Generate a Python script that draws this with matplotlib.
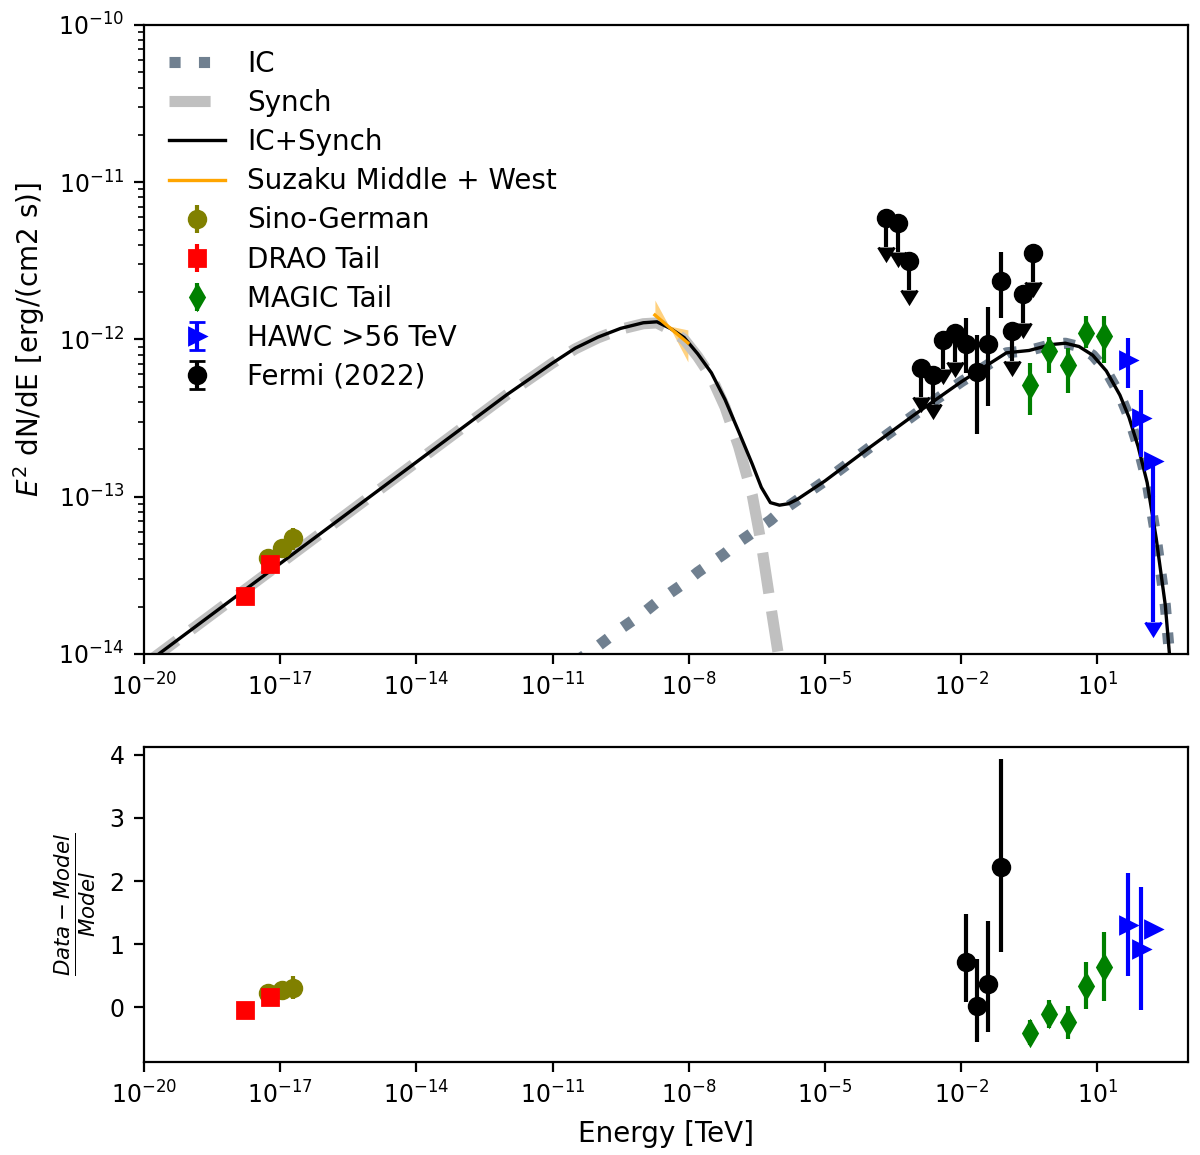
import numpy as np
import matplotlib
matplotlib.use("Agg")
from matplotlib import pyplot as plt
from matplotlib.ticker import NullLocator

# ---- model curves (log10 E [TeV], log10 E^2dN/dE) ----
log_e = np.array([-20, -18, -16, -14, -12, -11.5, -11, -10.5, -10, -9.5, -9, -8.7, -8.4,
                  -8.1, -7.8, -7.5, -7.2, -6.9, -6.6, -6.4, -6.2, -6.0, -5.8, -5.6,
                  -5.0, -4.0, -3.0, -2.0, -1.0, -0.5, 0.0, 0.3, 0.6, 0.9, 1.2,
                  1.5, 1.7, 1.9, 2.1, 2.3, 2.5, 2.6, 2.7])
nan = np.nan
synch_log = np.array([-14.07, -13.64, -13.21, -12.78, -12.35, -12.25, -12.15, -12.06,
                      -11.99, -11.935, -11.90, -11.895, -11.94, -12.00, -12.11, -12.24,
                      -12.43, -12.68, -12.99, -13.30, -13.68, -14.05, -14.5, -15.0,
                      nan, nan, nan, nan, nan, nan, nan, nan, nan, nan, nan,
                      nan, nan, nan, nan, nan, nan, nan, nan])
ic_log = np.array([nan, nan, nan, nan, nan, nan, nan, -14.05, -13.95, -13.84, -13.74,
                   -13.67, -13.61, -13.55, -13.48, -13.42, -13.36, -13.29, -13.23,
                   -13.19, -13.15, -13.10, -13.06, -13.02, -12.90, -12.684, -12.473,
                   -12.27, -12.085, -12.07, -12.032, -12.024, -12.045, -12.10, -12.20,
                   -12.354, -12.495, -12.68, -12.91, -13.266, -13.69, -14.03, -14.45])

# ---- Suzaku bowtie ----
suzaku_e = [1.80e-9, 3.66e-9, 9.6e-9]
suzaku_flux = [1.43e-12, 1.20e-12, 9.5e-13]
suzaku_hi = [1.78e-12, 1.22e-12, 1.15e-12]
suzaku_lo = [1.27e-12, 1.22e-12, 7.2e-13]

# ---- data points ----
sino_e = [5.47e-18, 1.08e-17, 1.95e-17]
sino_flux = [4.06e-14, 4.70e-14, 5.44e-14]
sino_err = [4.0e-15, 5.6e-15, 8.7e-15]
sino_res = [0.23, 0.27, 0.31]
sino_res_err = [0.08, 0.10, 0.18]

drao_e = [1.68e-18, 5.96e-18]
drao_flux = [2.34e-14, 3.73e-14]
drao_err = [1.0e-15, 3.0e-15]
drao_res = [-0.04, 0.16]
drao_res_err = [0.04, 0.10]

magic_e = [0.327, 0.873, 2.22, 5.61, 13.96]
magic_flux = [5.14e-13, 8.49e-13, 6.89e-13, 1.104e-12, 1.052e-12]
magic_err_lo = [1.83e-13, 2.39e-13, 2.34e-13, 2.25e-13, 3.46e-13]
magic_err_hi = [1.92e-13, 1.93e-13, 1.90e-13, 3.06e-13, 3.58e-13]
magic_res = [-0.405, -0.105, -0.237, 0.343, 0.64]
magic_res_err = [0.20, 0.22, 0.26, 0.37, 0.55]

hawc_e = [48.0, 94.4, 170.0]
hawc_flux = [7.41e-13, 3.15e-13, 1.69e-13]
hawc_err_lo = [2.51e-13, 1.36e-13, 1.53e-13]
hawc_err_hi = [2.78e-13, 1.63e-13, 0.0]
hawc_ul = [False, False, True]
hawc_res = [1.31, 0.92, 1.24]
hawc_res_err_lo = [0.82, 0.96, 0.0]
hawc_res_err_hi = [0.82, 0.99, 0.0]

fermi_e = [2.21e-4, 4.06e-4, 7.08e-4, 1.30e-3, 2.39e-3, 3.97e-3, 7.29e-3,
           1.28e-2, 2.23e-2, 3.89e-2, 7.53e-2, 0.1315, 0.2296, 0.381]
fermi_flux = [5.93e-12, 5.51e-12, 3.16e-12, 6.59e-13, 5.94e-13, 9.93e-13, 1.10e-12,
              9.35e-13, 6.21e-13, 9.35e-13, 2.36e-12, 1.13e-12, 1.95e-12, 3.55e-12]
fermi_err_lo = [0, 0, 0, 0, 0, 0, 0, 3.23e-13, 3.70e-13, 5.57e-13, 9.84e-13, 0, 0, 0]
fermi_err_hi = [0, 0, 0, 0, 0, 0, 0, 4.36e-13, 4.48e-13, 6.75e-13, 1.24e-12, 0, 0, 0]
fermi_ul = [True] * 7 + [False] * 4 + [True] * 3
fermi_res_e = [1.28e-2, 2.23e-2, 3.89e-2, 7.53e-2]
fermi_res = [0.72, 0.02, 0.37, 2.23]
fermi_res_err_lo = [0.64, 0.58, 0.77, 1.36]
fermi_res_err_hi = [0.76, 0.74, 0.99, 1.70]

ul_frac = 0.35  # arrow length of upper limits

energy = 10.0 ** log_e
synch = 10.0 ** synch_log
ic = 10.0 ** ic_log
total = np.nansum([synch, ic], axis=0)

fermi_flux = np.array(fermi_flux)
fermi_ul = np.array(fermi_ul)
fermi_lo = np.where(fermi_ul, ul_frac * fermi_flux, fermi_err_lo)

fig = plt.figure(figsize=(6, 5.775), dpi=200)
ax = fig.add_axes([0.12, 0.4338, 0.87, 0.5446])
ax2 = fig.add_axes([0.12, 0.0805, 0.87, 0.2727])

ax.plot(energy, ic, color="slategray", ls=":", lw=4, label="IC")
ax.plot(energy, synch, color="silver", ls="--", lw=4, label="Synch")
ax.plot(energy, total, color="black", lw=1.2, label="IC+Synch")
ax.fill_between(suzaku_e, suzaku_lo, suzaku_hi, color="orange", alpha=0.5, lw=0)
ax.plot(suzaku_e, suzaku_flux, color="orange", lw=1.2, label="Suzaku Middle + West")

ax.errorbar(sino_e, sino_flux, yerr=sino_err, fmt="o", color="olive", ms=6)
ax.errorbar(drao_e, drao_flux, yerr=drao_err, fmt="s", color="red", ms=6)
ax.errorbar(magic_e, magic_flux, yerr=[magic_err_lo, magic_err_hi], fmt="d",
            color="green", ms=6)
ax.errorbar(hawc_e, hawc_flux, yerr=[hawc_err_lo, hawc_err_hi], uplims=hawc_ul,
            fmt=">", color="blue", ms=6)
ax.errorbar(fermi_e, fermi_flux, yerr=[fermi_lo, fermi_err_hi], uplims=fermi_ul,
            fmt="o", color="black", ms=6)

# legend entries
ax.errorbar([nan], [nan], yerr=[1], fmt="o", color="olive", ms=6, label="Sino-German")
ax.errorbar([nan], [nan], yerr=[1], fmt="s", color="red", ms=6, label="DRAO Tail")
ax.errorbar([nan], [nan], yerr=[1], fmt="d", color="green", ms=6, label="MAGIC Tail")
ax.errorbar([nan], [nan], yerr=[1], fmt=">", color="blue", ms=6, capsize=3,
            label="HAWC >56 TeV")
ax.errorbar([nan], [nan], yerr=[1], fmt="o", color="black", ms=6, capsize=3,
            label="Fermi (2022)")

ax.set_xscale("log")
ax.set_yscale("log")
ax.set_xlim(1e-20, 1e3)
ax.set_ylim(1e-14, 1e-10)
ax.set_ylabel("$E^2$ dN/dE [erg/(cm2 s)]", fontsize=10)
ax.legend(loc="upper left", frameon=False, fontsize=10, labelspacing=0.4)

# residuals
ax2.errorbar(sino_e, sino_res, yerr=sino_res_err, fmt="o", color="olive", ms=6)
ax2.errorbar(drao_e, drao_res, yerr=drao_res_err, fmt="s", color="red", ms=6)
ax2.errorbar(magic_e, magic_res, yerr=magic_res_err, fmt="d", color="green", ms=6)
ax2.errorbar(hawc_e, hawc_res, yerr=[hawc_res_err_lo, hawc_res_err_hi], fmt=">",
             color="blue", ms=6)
ax2.errorbar(fermi_res_e, fermi_res, yerr=[fermi_res_err_lo, fermi_res_err_hi],
             fmt="o", color="black", ms=6)
ax2.set_xscale("log")
ax2.set_xlim(1e-20, 1e3)
ax2.set_ylim(-0.87, 4.125)
ax2.set_xlabel("Energy [TeV]", fontsize=10)
ax2.set_ylabel(r"$\frac{Data-Model}{Model}$", fontsize=11)

for a in (ax, ax2):
    a.set_xticks(10.0 ** np.arange(-20, 2, 3))
    a.xaxis.set_minor_locator(NullLocator())
    a.tick_params(labelsize=8.5)

fig.savefig("out.png")
